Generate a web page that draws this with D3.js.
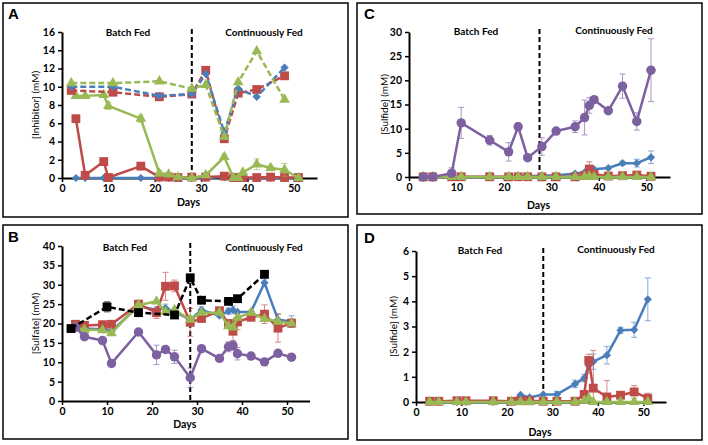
<!DOCTYPE html>
<html>
<head>
<meta charset="utf-8">
<script src="https://cdn.jsdelivr.net/npm/d3@7"></script>
<style>
  body { margin: 0; background: #fff; }
  svg text { font-family: Lato, "Liberation Sans", sans-serif; }
</style>
</head>
<body>
<svg id="chart" width="708" height="445"></svg>
<script>
'use strict';

// ---- data ----
var dayTicks = [0, 10, 20, 30, 40, 50];

// A: inhibitor, dashed = feed, solid = reactor
var aFeedDays  = [2, 11, 21, 28, 31, 35, 38, 42, 48];
var aBlueFeed  = [10.0, 10.0, 9.0, 9.2, 11.4, 5.0, 9.8, 8.9, 12.1];
var aRedFeed   = [9.6, 9.4, 8.9, 9.2, 11.8, 4.3, 9.3, 9.7, 11.2];
var aGreenFeed = [10.4, 10.4, 10.6, 9.8, 10.2, 4.5, 10.5, 13.9, 8.6];

var aDays     = [3, 5, 9, 10, 17, 21, 23, 25, 28, 31, 35, 37, 38, 39, 42, 45, 48, 51];
var aBlue     = [0, 0, 0, 0, 0, 0, 0, 0, 0, 0, 0.1, 0, 0, 0, 0, 0, 0, 0];
var aRed      = [6.5, 0.3, 1.8, 0.05, 1.3, 0.1, 0.1, 0.05, 0.1, 0.1, 0.2, 0.05, 0.05, 0.05, 0.05, 0.1, 0.05, 0.05];
var aGreen    = [9.0, 9.0, 9.1, 7.9, 6.5, 0.5, 0.4, 0.1, 0, 0.3, 2.3, 0, 0, 0.6, 1.5, 1.1, 0.9, 0];
var aGreenErr = [0, 0, 0, 0.4, 0.4, 0.3, 0, 0, 0, 0, 0.3, 0, 0, 0, 0.6, 0.3, 0.7, 0];

// B: sulfate
var bDays      = [3, 5, 9, 11, 17, 21, 23, 25, 28.5, 31, 35, 37, 38, 39, 42, 45, 48, 51];
var bBlue      = [19.5, 18.7, 18.5, 18.0, 24.5, 23.5, 24.0, 23.0, 21.0, 23.5, 22.0, 23.2, 23.5, 23.0, 23.0, 30.5, 21.0, 20.5];
var bBlueErr   = [0, 0, 0, 0, 0, 0, 1.0, 0, 0, 0.8, 0, 0.8, 1.0, 0, 0, 1.0, 1.5, 1.5];
var bRed       = [19.8, 19.5, 19.7, 19.8, 25.0, 22.8, 29.6, 29.7, 20.3, 21.3, 23.3, 20.0, 18.0, 20.4, 21.6, 22.4, 18.8, 20.1];
var bRedErr    = [0, 0, 0, 0, 0, 1.5, 3.6, 1.5, 3.6, 0, 0, 0, 2.5, 2.0, 0, 2.4, 3.6, 1.0];
var bGreen     = [19.0, 18.4, 18.3, 17.5, 24.8, 25.7, 23.0, 23.5, 21.0, 22.8, 22.8, 19.3, 19.0, 21.5, 22.8, 21.2, 20.5, 20.0];
var bPurple    = [19.0, 16.6, 15.6, 9.7, 17.8, 11.9, 13.3, 11.4, 6.0, 13.5, 11.0, 14.0, 14.3, 12.2, 11.6, 10.1, 12.3, 11.3];
var bPurpleErr = [0, 0, 0, 0.8, 0, 2.5, 0, 1.7, 2.5, 0, 0, 1.3, 1.2, 1.6, 0, 0, 0, 0];
var bBlackDays = [2, 10, 17, 25, 28.5, 31, 37, 39, 45];
var bBlack     = [18.7, 24.3, 22.8, 22.2, 31.8, 26.0, 25.7, 26.4, 32.7];
var bBlackErr  = [0, 1.3, 0, 0, 0, 0, 0, 0, 0];

// C and D: sulfide
var sDays      = [3, 5, 9, 11, 17, 21, 23, 25, 28, 31, 35, 37, 38, 39, 42, 45, 48, 51];
var sBlue      = [0, 0, 0, 0, 0, 0.02, 0.28, 0.18, 0.3, 0.3, 0.72, 0.95, 1.45, 1.6, 1.86, 2.85, 2.87, 4.08];
var sRed       = [0.03, 0.03, 0.05, 0.05, 0.05, 0.03, 0.05, 0.05, 0.03, 0.03, 0.03, 0.3, 1.65, 0.55, 0.2, 0.27, 0.4, 0.15];
var sGreen     = [0, 0, 0, 0, 0, 0, 0, 0, 0, 0, 0, 0.05, 0.15, 0, 0, 0, 0, 0];
var cPurple    = [0, 0, 0.8, 11.2, 7.6, 5.2, 10.4, 4.0, 6.3, 9.5, 10.4, 12.3, 14.8, 16.0, 13.7, 18.8, 11.5, 22.1];
var cPurpleErr = [0, 0, 1.1, 3.2, 1.0, 1.9, 0.8, 0, 1.8, 0, 1.2, 3.6, 1.6, 0, 0, 2.5, 1.8, 6.5];
var cBlueErr   = [0, 0, 0, 0, 0, 0, 0, 0, 0, 0, 0, 0, 0, 0, 0, 0.4, 0.8, 1.3];
var cRedErr    = [0, 0, 0, 0, 0, 0, 0, 0, 0, 0, 0, 0, 1.5, 0, 0, 0, 0, 0];
var dBlueErr   = [0, 0, 0, 0, 0, 0, 0, 0, 0, 0.12, 0.15, 0.15, 0.3, 0.3, 0.35, 0.12, 0.3, 0.85];
var dRedErr    = [0, 0, 0, 0, 0, 0, 0, 0, 0, 0, 0, 0, 0.25, 1.5, 0.65, 0, 0.25, 0.2];

var BLUE = '#4a7ebb', RED = '#be4b48', GREEN = '#98b954', PURPLE = '#7d60a0';

var svg = d3.select('#chart');

function series(days, vals, color, marker, opts) {
  opts = opts || {};
  return { days: days, vals: vals, color: color, marker: marker,
           err: opts.err, dashed: opts.dashed };
}

var panels = [
  { letter: 'A', box: [3, 3, 345, 214], lp: [8, 19], xr: [62, 317], yr: [178, 32],
    yMax: 16, yStep: 2, ylab: '[Inhibitor] (mM)', ylx: 35, daysY: 206,
    batch: [128, 36], cont: [264, 36], div: 28,
    list: [
      series(aDays, aBlue, BLUE, 'diamond'),
      series(aDays, aRed, RED, 'square'),
      series(aDays, aGreen, GREEN, 'triangle', { err: aGreenErr }),
      series(aFeedDays, aRedFeed, RED, 'square', { dashed: true }),
      series(aFeedDays, aBlueFeed, BLUE, 'diamond', { dashed: true }),
      series(aFeedDays, aGreenFeed, GREEN, 'triangle', { dashed: true })
    ] },
  { letter: 'B', box: [3, 225, 345, 214], lp: [8, 242], xr: [62, 309.5], yr: [401, 246],
    yMax: 40, yStep: 5, ylab: '[Sulfate] (mM)', ylx: 35, daysY: 428,
    batch: [125, 251], cont: [264, 251], div: 28.5,
    list: [
      series(bDays, bBlue, BLUE, 'diamond', { err: bBlueErr }),
      series(bDays, bRed, RED, 'square', { err: bRedErr }),
      series(bDays, bGreen, GREEN, 'triangle'),
      series(bDays, bPurple, PURPLE, 'circle', { err: bPurpleErr }),
      series(bBlackDays, bBlack, '#000', 'square', { err: bBlackErr, dashed: true })
    ] },
  { letter: 'C', box: [357, 3, 345, 211], lp: [364, 19], xr: [409, 670], yr: [177, 32],
    yMax: 30, yStep: 5, ylab: '[Sulfide] (mM)', ylx: 384, daysY: 209,
    batch: [476, 35], cont: [614, 34], div: 27.5,
    list: [
      series(sDays, sBlue, BLUE, 'diamond', { err: cBlueErr }),
      series(sDays, sRed, RED, 'square', { err: cRedErr }),
      series(sDays, sGreen, GREEN, 'triangle'),
      series(sDays, cPurple, PURPLE, 'circle', { err: cPurpleErr })
    ] },
  { letter: 'D', box: [357, 225, 345, 215], lp: [364, 243], xr: [416, 666], yr: [402, 251],
    yMax: 6, yStep: 1, ylab: '[Sulfide] (mM)', ylx: 393, daysY: 436,
    batch: [480, 254], cont: [616, 253], div: 28,
    list: [
      series(sDays, sBlue, BLUE, 'diamond', { err: dBlueErr }),
      series(sDays, sRed, RED, 'square', { err: dRedErr }),
      series(sDays, sGreen, GREEN, 'triangle')
    ] }
];

var symbols = {
  diamond:  { type: d3.symbolSquare, size: 34, rot: 45 },
  square:   { type: d3.symbolSquare, size: 78, rot: 0 },
  triangle: { type: d3.symbolTriangle, size: 50, rot: 0 },
  circle:   { type: d3.symbolCircle, size: 70, rot: 0 }
};

function drawPanel(p) {
  var g = svg.append('g');

  g.append('rect')
    .attr('x', p.box[0]).attr('y', p.box[1])
    .attr('width', p.box[2]).attr('height', p.box[3])
    .attr('fill', 'none').attr('stroke', '#000').attr('stroke-width', 1.5);

  g.append('text').attr('x', p.lp[0]).attr('y', p.lp[1])
    .style('font-family', 'Liberation Sans, Arial, sans-serif')
    .style('font-weight', 'bold').style('font-size', '15px').text(p.letter);

  var x = d3.scaleLinear().domain([0, 55]).range(p.xr);
  var y = d3.scaleLinear().domain([0, p.yMax]).range(p.yr);

  var yTicks = d3.range(0, p.yMax + p.yStep / 2, p.yStep);

  var xAxis = g.append('g').attr('transform', 'translate(0,' + p.yr[0] + ')')
    .call(d3.axisBottom(x).tickValues(dayTicks).tickSize(4).tickSizeOuter(0).tickPadding(3)
      .tickFormat(d3.format('d')));
  var yAxis = g.append('g').attr('transform', 'translate(' + p.xr[0] + ',0)')
    .call(d3.axisLeft(y).tickValues(yTicks).tickSize(4).tickSizeOuter(0).tickPadding(3)
      .tickFormat(d3.format('d')));

  [xAxis, yAxis].forEach(function (a) {
    a.select('.domain').attr('stroke-width', 2);
    a.selectAll('.tick line').attr('stroke-width', 1.5);
    a.selectAll('.tick text').style('font-size', '10.5px').style('font-weight', 'bold')
      .style('font-family', 'Lato, sans-serif').attr('fill', '#000');
  });

  g.append('text').attr('x', (p.xr[0] + p.xr[1]) / 2 - 1).attr('y', p.daysY)
    .attr('text-anchor', 'middle').style('font-size', '10.5px').style('font-weight', 'bold')
    .text('Days');

  g.append('text')
    .attr('transform', 'translate(' + p.ylx + ',' + (p.yr[0] + p.yr[1]) / 2 + ') rotate(-90)')
    .attr('text-anchor', 'middle').attr('dy', '0.35em').style('font-size', '10px')
    .text(p.ylab);

  g.append('text').attr('x', p.batch[0]).attr('y', p.batch[1])
    .attr('text-anchor', 'middle').style('font-size', '10px').style('font-weight', 'bold')
    .text('Batch Fed');
  g.append('text').attr('x', p.cont[0]).attr('y', p.cont[1])
    .attr('text-anchor', 'middle').style('font-size', '10px').style('font-weight', 'bold')
    .text('Continuously Fed');

  g.append('line')
    .attr('x1', x(p.div)).attr('x2', x(p.div))
    .attr('y1', y(p.yMax) - 3).attr('y2', y(0) + 1)
    .attr('stroke', '#000').attr('stroke-width', 2).attr('stroke-dasharray', '5,3');

  var line = d3.line().x(function (d) { return x(d[0]); }).y(function (d) { return y(d[1]); });

  p.list.forEach(function (s) {
    var pts = s.days.map(function (d, i) { return [d, s.vals[i], s.err ? s.err[i] : 0]; });

    g.append('path').datum(pts)
      .attr('d', line).attr('fill', 'none')
      .attr('stroke', s.color).attr('stroke-width', 2.5)
      .attr('stroke-linejoin', 'round')
      .attr('stroke-dasharray', s.dashed ? '6,3' : null);

    var eb = g.append('g').attr('stroke', s.color).attr('stroke-width', 1)
      .attr('opacity', 0.65);
    pts.filter(function (d) { return d[2] > 0; }).forEach(function (d) {
      var cx = x(d[0]), lo = y(Math.max(0, d[1] - d[2])), hi = y(d[1] + d[2]);
      eb.append('line').attr('x1', cx).attr('x2', cx).attr('y1', lo).attr('y2', hi);
      eb.append('line').attr('x1', cx - 3).attr('x2', cx + 3).attr('y1', hi).attr('y2', hi);
      eb.append('line').attr('x1', cx - 3).attr('x2', cx + 3).attr('y1', lo).attr('y2', lo);
    });

    var sym = symbols[s.marker];
    g.append('g').selectAll('path').data(pts).enter().append('path')
      .attr('d', d3.symbol().type(sym.type).size(sym.size))
      .attr('transform', function (d) {
        return 'translate(' + x(d[0]) + ',' + y(d[1]) + ') rotate(' + sym.rot + ')';
      })
      .attr('fill', s.color);
  });
}

panels.forEach(drawPanel);
</script>
</body>
</html>
